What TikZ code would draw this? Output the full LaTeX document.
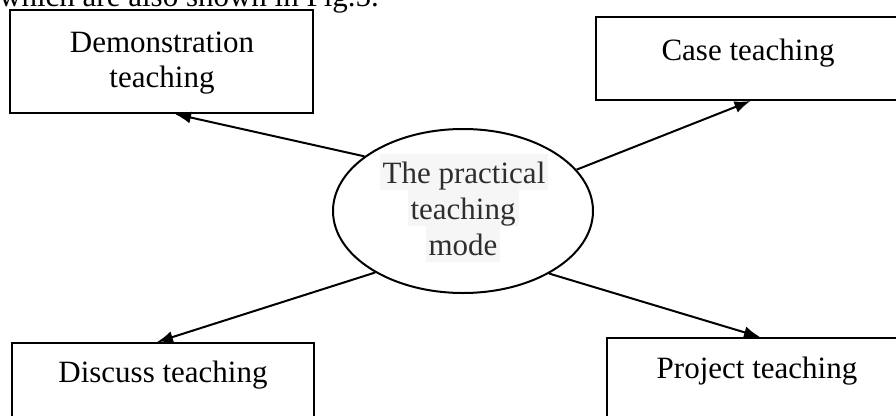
\documentclass[tikz,border=0pt]{standalone}
\usepackage{fontspec}
\setmainfont{Liberation Serif}
\usetikzlibrary{shapes.geometric,arrows.meta}
\definecolor{hl}{HTML}{F6F6F6}
\definecolor{ink}{HTML}{2E2E2E}
\tikzset{
  bigfont/.style={font=\fontsize{31}{35}\selectfont},
  boxnode/.style={draw, line width=2pt, rectangle, inner sep=0pt},
  txt/.style={bigfont, inner sep=0pt, anchor=base, align=center},
  elltxt/.style={bigfont, text=ink, fill=hl, inner xsep=3pt, inner ysep=0pt, text height=29pt, text depth=7pt, anchor=base},
  conn/.style={line width=2pt, -{Latex[length=16pt,width=12pt]}}
}
\begin{document}
\begin{tikzpicture}[x=1pt,y=-1pt]
\useasboundingbox (0,0) rectangle (896,415);
\clip (0,0) rectangle (896,415);
% cut-off line of running text at the top
\node[bigfont, inner sep=0pt, anchor=base west] (toptext) at (-1,6) {which are also shown in Fig.5.};
% boxes
\node[boxnode, minimum width=303pt, minimum height=103pt] (demo) at (161.5,61.5) {};
\node[boxnode, minimum width=309pt, minimum height=83pt] (case) at (750.5,58.5) {};
\node[boxnode, minimum width=302pt, minimum height=96pt] (disc) at (163,391) {};
\node[boxnode, minimum width=300pt, minimum height=102pt] (proj) at (757,389) {};
% box texts
\node[txt] (demotxt) at (162,87) {Demonstration\\teaching};
\node[txt] (casetxt) at (748,60) {Case teaching};
\node[txt] (disctxt) at (163,382) {Discuss teaching};
\node[txt] (projtxt) at (757,378) {Project teaching};
% centre ellipse
\node[draw, line width=2pt, ellipse, minimum width=260pt, minimum height=164pt, inner sep=0pt] (ell) at (463,211) {};
\node[elltxt] (l1) at (464,183) {The practical};
\node[elltxt] (l2) at (463,219) {teaching};
\node[elltxt] (l3) at (463,255) {mode};
% connectors
\draw[conn] (ell.151.6) -- ([xshift=13.5pt]demo.south);
\draw[conn] (ell.20.5) -- (case.south);
\draw[conn] (ell.215.4) -- ([xshift=-6pt]disc.north);
\draw[conn] (ell.324.5) -- ([xshift=3pt]proj.north);
\end{tikzpicture}
\end{document}
